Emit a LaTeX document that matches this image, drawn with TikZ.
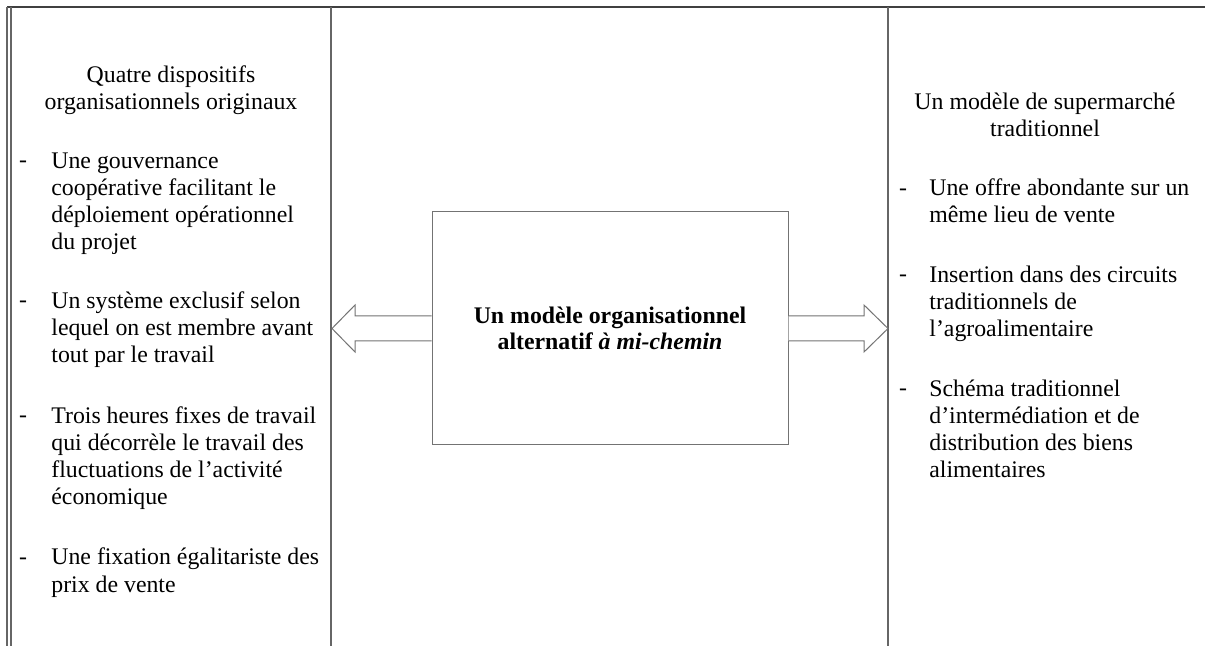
\documentclass[tikz,border=0pt]{standalone}
\usepackage{fontspec}
\setmainfont{Liberation Serif}
\usetikzlibrary{positioning,calc}

\begin{document}
\begin{tikzpicture}[x=0.5pt, y=-0.5pt,
    txt/.style={font=\fontsize{11.9}{13.65}\selectfont, inner sep=0pt, align=left, anchor=base west},
    head/.style={font=\fontsize{11.9}{13.65}\selectfont, inner sep=0pt, align=center, anchor=base},
    hyph/.style={font=\fontsize{11.9}{13.65}\selectfont, inner sep=0pt, anchor=base},
    rule/.style={draw=black!60, line width=0.6pt},
    hollow/.style={draw=black!55, line width=0.5pt, fill=white, line join=miter}]
    \useasboundingbox (0,0) rectangle (1205,646);
    % table frame
    \draw[line width=1pt, black!75] (7,7) -- (1205,7);
    \draw[rule] (7,7) -- (7,646);
    \draw[rule] (11,7) -- (11,646);
    \draw[rule] (331,7) -- (331,646);
    \draw[rule] (888,7) -- (888,646);
    % left column (nodes sit on the baseline of their last line)
    \node[head] (lhead) at (171,110) {Quatre dispositifs\\organisationnels originaux};
    \node[hyph] (ld1) at (23,168) {-};
    \node[txt] (lp1) at (51,250) {Une gouvernance\\coopérative facilitant le\\déploiement opérationnel\\du projet};
    \node[hyph] (ld2) at (23,308) {-};
    \node[txt] (lp2) at (51,363) {Un système exclusif selon\\lequel on est membre avant\\tout par le travail};
    \node[hyph] (ld3) at (23,423) {-};
    \node[txt] (lp3) at (51,505) {Trois heures fixes de travail\\qui décorrèle le travail des\\fluctuations de l’activité\\économique};
    \node[hyph] (ld4) at (23,565) {-};
    \node[txt] (lp4) at (51,592) {Une fixation égalitariste des\\prix de vente};
    % right column
    \node[head] (rhead) at (1045,137) {Un modèle de supermarché\\traditionnel};
    \node[hyph] (rd1) at (903,196) {-};
    \node[txt] (rp1) at (929,223) {Une offre abondante sur un\\même lieu de vente};
    \node[hyph] (rd2) at (903,282) {-};
    \node[txt] (rp2) at (929,337) {Insertion dans des circuits\\traditionnels de\\l’agroalimentaire};
    \node[hyph] (rd3) at (903,396) {-};
    \node[txt] (rp3) at (929,478) {Schéma traditionnel\\d’intermédiation et de\\distribution des biens\\alimentaires};
    % middle
    \node[draw=black!55, line width=0.5pt, minimum width=178pt, minimum height=116.5pt,
          align=center, font=\fontsize{11.9}{12.8}\selectfont\bfseries] (mid) at (610,328.5)
          {Un modèle organisationnel\\alternatif \textit{à mi-chemin}};
    \coordinate (ltip) at (332,328.5);
    \coordinate (rtip) at (888,328.5);
    \draw[hollow] ($(mid.west)+(0,-12.5)$) -- ($(ltip)+(23,-12.5)$) -- ($(ltip)+(23,-23.5)$) -- (ltip)
        -- ($(ltip)+(23,23.5)$) -- ($(ltip)+(23,12.5)$) -- ($(mid.west)+(0,12.5)$);
    \draw[hollow] ($(mid.east)+(0,-12.5)$) -- ($(rtip)+(-24,-12.5)$) -- ($(rtip)+(-24,-23.5)$) -- (rtip)
        -- ($(rtip)+(-24,23.5)$) -- ($(rtip)+(-24,12.5)$) -- ($(mid.east)+(0,12.5)$);
\end{tikzpicture}
\end{document}
